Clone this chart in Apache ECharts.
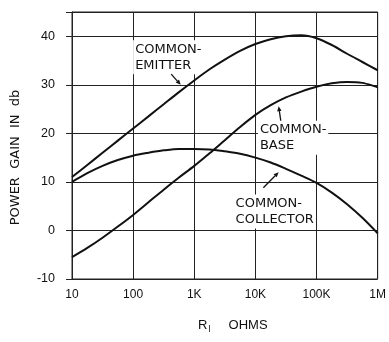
<!DOCTYPE html>
<html><head><meta charset="utf-8">
<script src="https://cdn.jsdelivr.net/npm/echarts@6/dist/echarts.min.js"></script>
<style>html,body{margin:0;padding:0;background:#fff}#c{width:389px;height:342px}</style>
</head><body><div id="c"></div>
<script>
// Load resistance values (ohms), quarter-decade reading points
const resistance = [10, 17.8, 31.6, 56.2, 100, 178, 316, 562, 1000, 1780, 3160, 5620,
  10000, 17800, 31600, 56200, 100000, 178000, 316000, 562000, 1000000];
// Power gain (db)
const commonEmitter   = [11, 13.5, 16, 18.5, 21, 23.5, 26, 28.5, 30.9, 33.2, 35.2, 37.0,
  38.4, 39.4, 40.0, 40.2, 39.6, 38.2, 36.4, 34.7, 33];
const commonBase      = [-5.5, -3.6, -1.5, 0.8, 3.2, 5.8, 8.4, 10.9, 13.3, 15.9, 18.6, 21.3,
  23.8, 25.8, 27.4, 28.6, 29.6, 30.3, 30.6, 30.4, 29.5];
const commonCollector = [10, 11.8, 13.3, 14.5, 15.4, 16.0, 16.5, 16.8, 16.8, 16.7, 16.3, 15.8,
  15.0, 14.0, 12.7, 11.3, 9.8, 7.8, 5.4, 2.6, -0.6];
const xTickLabels = {10:'10', 100:'100', 1000:'1K', 10000:'10K', 100000:'100K', 1000000:'1M'};
const yTicks = [-10, 0, 10, 20, 30, 40];

// Annotations (data coordinates)
const annotations = [
  {text:'COMMON-\nEMITTER', at:[100, 39.2], tail:[420, 32.2], head:[600, 30.0]},
  {text:'COMMON-\nBASE', at:[11000, 22.6], tail:[26000, 22.6], head:[24000, 25.6]},
  {text:'COMMON-\nCOLLECTOR', at:[4400, 7.4], tail:[13500, 8.8], head:[24000, 12.0]}
];

const pair = v => resistance.map((x,i)=>[x, v[i]]);
const chart = echarts.init(document.getElementById('c'), null, {renderer:'canvas'});
const lineStyle = {color:'#111', width:2};
const mk = (name, v) => ({name, type:'line', data:pair(v), smooth:0.3, symbol:'none', lineStyle, z:3});

chart.setOption({
  animation:false,
  backgroundColor:'#fff',
  grid:{left:72, right:9, top:12, bottom:63, containLabel:false, show:true, borderColor:'#222', borderWidth:1},
  xAxis:{
    type:'log', logBase:10, min:10, max:1000000,
    axisLine:{show:true, lineStyle:{color:'#222', width:1}},
    axisTick:{show:true, length:3, lineStyle:{color:'#222'}},
    minorTick:{show:false},
    splitLine:{show:true, lineStyle:{color:'#222', width:1}},
    axisLabel:{color:'#111', fontFamily:'Liberation Sans', fontSize:12, margin:10,
      formatter:v=>xTickLabels[Math.round(v)]||''},
    name:'{r|R}{s|l}     OHMS', nameLocation:'middle', nameGap:38,
    nameTextStyle:{color:'#111', fontFamily:'Liberation Sans', fontSize:13, padding:[0,0,0,16],
      rich:{r:{fontSize:13, fontFamily:'Liberation Sans', color:'#111'},
            s:{fontSize:9, fontFamily:'Liberation Sans', color:'#111', padding:[8,0,0,1]}}}
  },
  yAxis:{
    type:'value', min:-10, max:45, interval:10,
    axisLine:{show:true, lineStyle:{color:'#222', width:1}},
    axisTick:{show:true, length:6, lineStyle:{color:'#222'}},
    splitLine:{show:true, lineStyle:{color:'#222', width:1}},
    axisLabel:{color:'#111', fontFamily:'Liberation Sans', fontSize:12.5, margin:17,
      formatter:v=>yTicks.includes(v)?String(v):''},
    name:'POWER  GAIN  IN  db', nameLocation:'middle', nameGap:50, nameRotate:90,
    nameTextStyle:{color:'#111', fontFamily:'DejaVu Sans', fontSize:13, padding:[0,24,0,0]}
  },
  series:[mk('Common-Emitter', commonEmitter), mk('Common-Base', commonBase), mk('Common-Collector', commonCollector)]
});

// build annotation graphics
const toPx = p => chart.convertToPixel({xAxisIndex:0, yAxisIndex:0}, p);
const g = [];
annotations.forEach(a=>{
  const p = toPx(a.at);
  g.push({type:'text', left:p[0], top:p[1], z:1,
    style:{text:a.text, fill:'#111', font:'13px "DejaVu Sans"', lineHeight:16,
      backgroundColor:'#fff', padding:[1,2,1,2]}});
  const t = toPx(a.tail), h = toPx(a.head);
  const dx=h[0]-t[0], dy=h[1]-t[1], L=Math.hypot(dx,dy), ux=dx/L, uy=dy/L;
  const al=5, aw=2.2;
  const bx=h[0]-ux*al, by=h[1]-uy*al;
  g.push({type:'line', z:11, shape:{x1:t[0], y1:t[1], x2:bx, y2:by}, style:{stroke:'#111', lineWidth:1.3}});
  g.push({type:'polygon', z:11, shape:{points:[[h[0],h[1]],[bx-uy*aw, by+ux*aw],[bx+uy*aw, by-ux*aw]]}, style:{fill:'#111'}});
});
chart.setOption({graphic:g});
</script></body></html>
